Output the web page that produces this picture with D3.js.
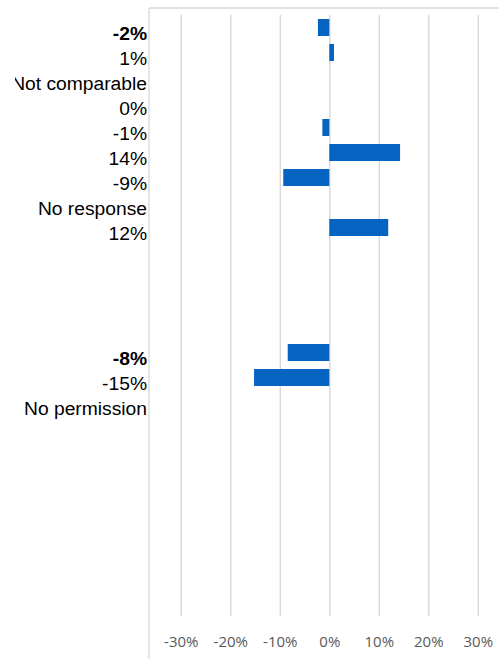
<!DOCTYPE html>
<html>
<head>
<meta charset="utf-8">
<script src="https://cdn.jsdelivr.net/npm/d3@7"></script>
<style>
  html, body { margin: 0; padding: 0; background: #fff; }
  svg { display: block; }
</style>
</head>
<body>
<svg id="chart" width="499" height="659"></svg>
<script>
// Change per row (percent); null where the row has a status note instead of a figure
const values = [-2.3, 0.95, null, 0, -1.4, 14.3, -9.3, null, 11.9,
                null, null, null, null,
                -8.4, -15.2, null,
                null, null, null, null, null, null, null, null];
// Status notes for rows without a figure
const notes = ["", "", "Not comparable", "", "", "", "", "No response", "",
               "", "", "", "",
               "", "", "No permission",
               "", "", "", "", "", "", "", ""];
// Rows whose label is set in bold
const boldRows = [0, 13];
// Axis tick values (percent)
const ticks = [-30, -20, -10, 0, 10, 20, 30];

const rows = d3.range(values.length);
const labelText = i => values[i] !== null ? Math.round(values[i]) + "%" : notes[i];

const svg = d3.select("#chart");
const grid = "#d9d9d9";

const x = d3.scaleLinear().domain([-30, 30]).range([180.8, 477.8]);
const y = d3.scaleBand().domain(rows).range([15, 615])
  .paddingInner(0.32).paddingOuter(0.16);

// frame: top and left rules
svg.append("line").attr("x1", 149).attr("x2", 499).attr("y1", 8).attr("y2", 8)
  .attr("stroke", grid).attr("stroke-width", 1.3);
svg.append("line").attr("x1", 149).attr("x2", 149).attr("y1", 8).attr("y2", 659)
  .attr("stroke", grid).attr("stroke-width", 1.3);

// vertical gridlines + tick labels via a bottom axis
const axis = d3.axisBottom(x).tickValues(ticks)
  .tickSize(-(616 - 15)).tickSizeOuter(0)
  .tickFormat(d => d + "%");
const gAxis = svg.append("g").attr("transform", "translate(0,616)").call(axis);
gAxis.select(".domain").remove();
gAxis.selectAll(".tick line").attr("stroke", grid).attr("stroke-width", 1.5);
gAxis.selectAll(".tick text")
  .attr("y", 31)
  .attr("dy", 0)
  .attr("fill", "#595959")
  .style("font-family", "'Open Sans', sans-serif")
  .style("font-size", "15px");

// bars
svg.append("g").selectAll("rect")
  .data(rows.filter(i => values[i] !== null && values[i] !== 0))
  .join("rect")
  .attr("x", i => x(Math.min(0, values[i])))
  .attr("width", i => Math.abs(x(values[i]) - x(0)))
  .attr("y", i => y(i))
  .attr("height", y.bandwidth())
  .attr("fill", "#0563c1");

// row labels, clipped at the left edge
svg.append("clipPath").attr("id", "labelClip")
  .append("rect").attr("x", 15).attr("y", 0).attr("width", 140).attr("height", 659);

svg.append("g").attr("clip-path", "url(#labelClip)")
  .selectAll("text")
  .data(rows.filter(i => labelText(i) !== ""))
  .join("text")
  .attr("transform", i => `translate(147,${y(i) + y.bandwidth() / 2 + 12}) scale(1.07,1)`)
  .attr("text-anchor", "end")
  .attr("fill", "#000")
  .style("font-family", "'Liberation Sans', Arial, sans-serif")
  .style("font-size", "18px")
  .style("font-weight", i => boldRows.includes(i) ? "bold" : "normal")
  .text(labelText);
</script>
</body>
</html>
